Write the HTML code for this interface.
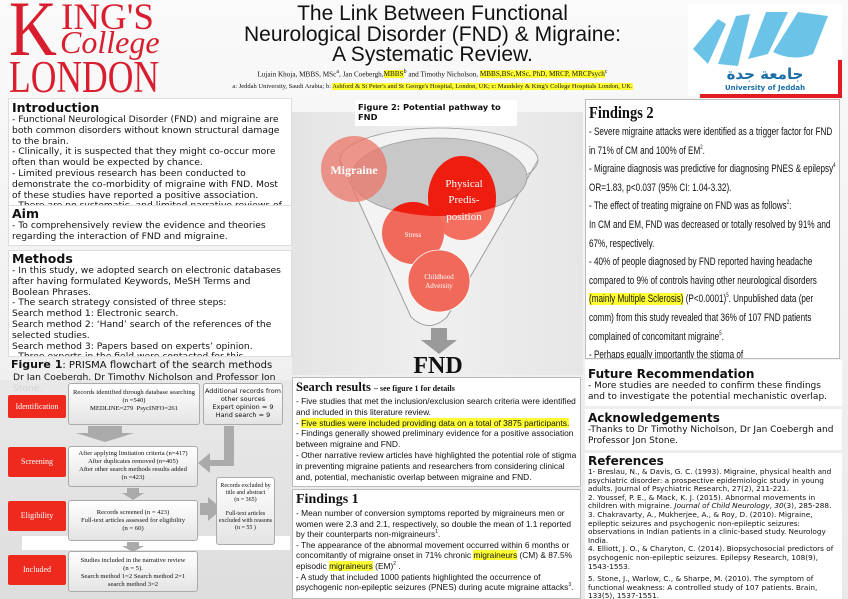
<!DOCTYPE html>
<html><head><meta charset="utf-8">
<style>
*{margin:0;padding:0;box-sizing:border-box}
body{width:848px;height:599px;overflow:hidden;background:linear-gradient(#fafafa,#e9e9e9);font-family:"DejaVu Sans","Liberation Sans",sans-serif;position:relative;color:#111}
.a{position:absolute}
.box{position:absolute;background:#fff;overflow:hidden;border:1px solid #ddd}
.h{font-weight:bold;font-size:12.5px;line-height:14px}
.t{font-size:9.2px;line-height:10.8px}
.hl{background:#ffff33}
.red{background:#ee2a1e;color:#fff;font-family:"Liberation Serif",serif;font-size:8px;text-align:center;border-radius:2px}
.fb{position:absolute;background:linear-gradient(#fff,#e4e4e4);border:1px solid #aaa;border-radius:3px;font-family:"Liberation Serif",serif;font-size:6.6px;line-height:8px;text-align:center;color:#111}
.kcl{position:absolute;color:#d81e2e;font-family:"Liberation Serif",serif;line-height:1;white-space:nowrap;transform-origin:left top}
</style></head><body>
<!-- KCL logo -->
<div class="kcl" style="left:9px;top:-10px;font-size:78px;transform:scaleX(.85)">K</div>
<div class="kcl" style="left:61px;top:-1px;font-size:37px">ING'S</div>
<div class="kcl" style="left:60px;top:26px;font-size:32px;font-style:italic">College</div>
<div class="kcl" style="left:9px;top:55px;font-size:45px;transform:scaleX(.79)">LONDON</div>
<!-- Title -->
<div class="a" style="left:130px;top:4px;width:605px;text-align:center;font-family:'Liberation Sans',sans-serif;font-size:21px;line-height:20.5px">The Link Between Functional<br>Neurological Disorder (FND) &amp; Migraine:<br>A Systematic Review.</div>
<div class="a" style="left:170px;top:69px;width:525px;text-align:center;font-family:'Liberation Serif',serif;font-size:7.2px;white-space:nowrap">Lujain Khoja, MBBS, MSc<sup>a</sup>, Jan Coebergh,<span class="hl">MBBS</span><sup>b</sup> and Timothy Nicholson, <span class="hl">MBBS,BSc,MSc, PhD, MRCP, MRCPsych</span><sup>c</sup></div>
<div class="a" style="left:170px;top:83px;width:525px;text-align:center;font-family:'Liberation Serif',serif;font-size:6.5px;white-space:nowrap">a: Jeddah University, Saudi Arabia; b: <span class="hl">Ashford &amp; St Peter's and St George's Hospital, London, UK; c: Maudsley &amp; King's College Hospitals London, UK.</span></div>
<!-- UoJ logo -->
<div class="a" style="left:688px;top:4px;width:154px;height:92px;background:#fff">
 <svg width="154" height="92"><g fill="#6cc3e8"><path d="M5 45 L30 15 L38 20 L20 60Z"/><path d="M30 60 L48 12 L62 10 L50 62Z"/><path d="M60 55 L78 8 L100 8 L80 50Z"/><path d="M85 48 L110 8 L140 12 L125 50 Q105 58 85 48Z"/></g><text x="77" y="75" text-anchor="middle" font-size="15" fill="#1a6fa8" font-family="DejaVu Sans,sans-serif" font-weight="bold">جامعة جدة</text><text x="77" y="86" text-anchor="middle" font-size="7" fill="#1a6fa8" font-weight="bold" font-family="DejaVu Sans,sans-serif">University of Jeddah</text></svg>
</div>
<div class="a" style="left:700px;top:94px;width:142px;height:4px;background:#e31b23"></div>
<div class="a" style="left:838px;top:60px;width:4px;height:36px;background:#e31b23"></div>

<!-- Left column -->
<div class="box" style="left:8px;top:98px;width:284px;height:108px;padding:2px 3px">
 <div class="h">Introduction</div>
 <div class="t">- Functional Neurological Disorder (FND) and migraine are both common disorders without known structural damage to the brain.<br>- Clinically, it is suspected that they might co-occur more often than would be expected by chance.<br>- Limited previous research has been conducted to demonstrate the co-morbidity of migraine with FND. Most of these studies have reported a positive association.<br>- There are no systematic, and limited narrative reviews of</div>
</div>
<div class="box" style="left:8px;top:206px;width:284px;height:40px;padding:1px 3px;border-top:none">
 <div class="h">Aim</div>
 <div class="t">- To comprehensively review the evidence and theories regarding the interaction of FND and migraine.</div>
</div>
<div class="box" style="left:8px;top:250px;width:284px;height:107px;padding:1px 3px">
 <div class="h">Methods</div>
 <div class="t">- In this study, we adopted search on electronic databases after having formulated Keywords, MeSH Terms and Boolean Phrases.<br>- The search strategy consisted of three steps:<br>Search method 1: Electronic search.<br>Search method 2: ‘Hand’ search of the references of the selected studies.<br>Search method 3: Papers based on experts’ opinion.<br>- Three experts in the field were contacted for this</div>
</div>
<div class="a" style="left:11px;top:358px;font-size:10px;white-space:nowrap"><b style="font-size:11px">Figure 1</b>: PRISMA flowchart of the search methods</div>
<div class="a t" style="left:13px;top:373px;white-space:nowrap">Dr Jan Coebergh, Dr Timothy Nicholson and Professor Jon<br>Stone.</div>
<!-- flowchart -->
<div class="a" style="left:0;top:380px;width:292px;height:219px;background:linear-gradient(#e8e8e8,#dcdcdc);opacity:.9"></div>
<div class="a" style="left:22px;top:536px;width:268px;height:14px;background:#fff"></div>
<div class="a red" style="left:8px;top:395px;width:58px;height:23px;line-height:23px">Identification</div>
<div class="a red" style="left:8px;top:447px;width:58px;height:30px;line-height:30px">Screening</div>
<div class="a red" style="left:8px;top:501px;width:58px;height:30px;line-height:30px">Eligibility</div>
<div class="a red" style="left:8px;top:555px;width:58px;height:30px;line-height:30px">Included</div>
<div class="fb" style="left:68px;top:383px;width:132px;height:42px;padding-top:5px">Records identified through database searching<br>(n =540)<br>MEDLINE=279 &nbsp;PsycINFO=261</div>
<div class="fb" style="left:203px;top:383px;width:80px;height:42px;padding-top:3px;font-family:'DejaVu Sans',sans-serif;font-size:6.5px">Additional records from other sources<br>Expert opinion = 9<br>Hand search = 9</div>
<svg class="a" style="left:0;top:380px" width="292" height="219">
 <path d="M88 46 h34 v7 h12 l-29 9 l-29 -9 h12z" fill="#aaa"/>
 <path d="M224 46 h10 v40 h-24 v7 l-12 -10 l12 -10 v7 h14z" fill="#aaa"/>
 <path d="M127 108 h12 v5 h5 l-11 7 l-11 -7 h5z" fill="#aaa"/>
 <path d="M127 162 h12 v4 h5 l-11 6 l-11 -6 h5z" fill="#aaa"/>
 <path d="M200 123 h8 v-6 l14 12 l-14 12 v-6 h-8z" fill="#aaa"/>
</svg>
<div class="fb" style="left:68px;top:446px;width:130px;height:41px;padding-top:3px">After applying limitation criteria (n=417)<br>After duplicates removed (n=405)<br>After other search methods results added<br>(n =423)</div>
<div class="fb" style="left:68px;top:500px;width:130px;height:41px;padding-top:8px">Records screened (n = 423)<br>Full-text articles assessed for eligibility<br>(n = 60)</div>
<div class="fb" style="left:216px;top:477px;width:59px;height:68px;padding-top:5px;font-size:6px;line-height:7px">Records excluded by title and abstract<br>(n = 365)<br><br>Full-text articles excluded with reasons<br>(n = 55 )</div>
<div class="fb" style="left:68px;top:551px;width:130px;height:41px;padding-top:5px">Studies included in the narrative review<br>(n = 5).<br>Search method 1=2 Search method 2=1<br>search method 3=2</div>

<!-- Middle figure -->
<div class="a" style="left:292px;top:112px;width:291px;height:263px;background:linear-gradient(90deg,#e4e4e4,#efefef,#e6e6e6)"></div>
<div class="a" style="left:355px;top:100px;width:162px;height:26px;background:#fff;font-size:8.3px;font-weight:bold;padding:2px 3px;line-height:10px">Figure 2: Potential pathway to FND</div>
<svg class="a" style="left:292px;top:112px" width="291" height="263">
 <defs><clipPath id="ce"><ellipse cx="147" cy="65" rx="88" ry="39"/></clipPath></defs>
 <path d="M48 48 L119 205 Q137 222 155 205 L246 48Z" fill="#f3f3f3" stroke="#999" stroke-width="0.8"/>
 <ellipse cx="147" cy="48" rx="99" ry="32" fill="#f3f3f3" stroke="#999" stroke-width="0.8"/>
 <path d="M48 48 L119 205 Q137 222 155 205 L246 48" fill="none" stroke="#999" stroke-width="0.8"/>
 <ellipse cx="147" cy="65" rx="88" ry="39" fill="#c8c8c8" stroke="#999" stroke-width="0.8"/>
 <ellipse cx="170" cy="86" rx="34" ry="42" fill="#f46f5f"/>
 <circle cx="121" cy="121" r="31" fill="#f0695a"/>
 <g clip-path="url(#ce)">
  <ellipse cx="170" cy="86" rx="34" ry="42" fill="#ee1d10"/>
  <circle cx="121" cy="121" r="31" fill="#ee1d10"/>
 </g>
 <circle cx="62" cy="57" r="33" fill="#ec7568" opacity="0.75"/>
 <circle cx="147" cy="169" r="31" fill="#f0695a" stroke="#fff" stroke-width="0.8"/>
 <path d="M139 216 h16 v12 h10 l-18 14 l-18 -14 h10z" fill="#9a9a9a"/>
 <g font-family="Liberation Serif,serif" fill="#fff" text-anchor="middle">
  <text x="62" y="62" font-size="12" font-weight="bold">Migraine</text>
  <text x="172" y="75" font-size="11">Physical</text>
  <text x="172" y="91" font-size="11">Predis-</text>
  <text x="172" y="108" font-size="11">position</text>
  <text x="121" y="125" font-size="7">Stress</text>
  <text x="147" y="167" font-size="7">Childhood</text>
  <text x="147" y="176" font-size="7">Adversity</text>
 </g>
 <text x="146" y="261" text-anchor="middle" font-family="Liberation Serif,serif" font-weight="bold" font-size="24" fill="#111">FND</text>
</svg>
<div class="box" style="left:292px;top:377px;width:289px;height:110px;padding:2px 3px;border-color:#bbb">
 <div style="font-family:'Liberation Serif',serif;font-weight:bold;font-size:12.5px;line-height:14px">Search results <span style="font-size:8px">– see figure 1 for details</span></div>
 <div class="t" style="font-family:'Liberation Sans',sans-serif;font-size:8.4px">- Five studies that met the inclusion/exclusion search criteria were identified and included in this literature review.<br>- <span class="hl">Five studies were included providing data on a total of 3875 participants.</span><br>- Findings generally showed preliminary evidence for a positive association between migraine and FND.<br>- Other narrative review articles have highlighted the potential role of stigma in preventing migraine patients and researchers from considering clinical and, potential, mechanistic overlap between migraine and FND.</div>
</div>
<div class="box" style="left:292px;top:489px;width:289px;height:110px;padding:2px 3px;border-color:#bbb">
 <div style="font-family:'Liberation Serif',serif;font-weight:bold;font-size:14px;line-height:16px">Findings 1</div>
 <div class="t" style="font-family:'Liberation Sans',sans-serif;font-size:8.4px;line-height:10.6px">- Mean number of conversion symptoms reported by migraineurs men or women were 2.3 and 2.1, respectively, so double the mean of 1.1 reported by their counterparts non-migraineurs<sup style="font-size:5px;line-height:0">1</sup>.<br>- The appearance of the abnormal movement occurred within 6 months or concomitantly of migraine onset in 71% chronic <span class="hl">migraineurs</span> (CM) &amp; 87.5% episodic <span class="hl">migraineurs</span> (EM)<sup style="font-size:5px;line-height:0">2</sup> .<br>- A study that included 1000 patients highlighted the occurrence of psychogenic non-epileptic seizures (PNES) during acute migraine attacks<sup style="font-size:5px;line-height:0">3</sup>.</div>
</div>

<!-- Right column -->
<div class="box" style="left:585px;top:99px;width:255px;height:260px;padding:3px 3px;border-color:#bbb">
 <div style="font-family:'Liberation Serif',serif;font-weight:bold;font-size:17px;line-height:20px;transform:scaleX(.85);transform-origin:left">Findings 2</div>
 <div style="width:346px;transform:scaleX(.72);transform-origin:left top;font-family:'Liberation Sans',sans-serif;font-size:11.3px;line-height:18.6px">- Severe migraine attacks were identified as a trigger factor for FND in 71% of CM and 100% of EM<sup style="font-size:6px;line-height:0">2</sup>.<br>- Migraine diagnosis was predictive for diagnosing PNES &amp; epilepsy<sup style="font-size:6px;line-height:0">4</sup> OR=1.83, p&lt;0.037 (95% CI: 1.04-3.32).<br>- The effect of treating migraine on FND was as follows<sup style="font-size:6px;line-height:0">2</sup>:<br>In CM and EM, FND was decreased or totally resolved by 91% and 67%, respectively.<br>- 40% of people diagnosed by FND reported having headache compared to 9% of controls having other neurological disorders <span class="hl">(mainly Multiple Sclerosis)</span> (P&lt;0.0001)<sup style="font-size:6px;line-height:0">5</sup>. Unpublished data (per comm) from this study revealed that 36% of 107 FND patients complained of concomitant migraine<sup style="font-size:6px;line-height:0">5</sup>.<br>- Perhaps equally importantly the stigma of</div>
</div>
<div class="box" style="left:585px;top:360px;width:257px;height:46px;padding:7px 3px 0;border:none">
 <div class="h" style="font-size:12px">Future Recommendation</div>
 <div class="t" style="font-size:9px">- More studies are needed to confirm these findings and to investigate the potential mechanistic overlap.</div>
</div>
<div class="box" style="left:585px;top:409px;width:257px;height:41px;padding:2px 3px;border:none">
 <div class="h" style="font-size:12px">Acknowledgements</div>
 <div class="t" style="font-size:9px">-Thanks to Dr Timothy Nicholson, Dr Jan Coebergh and Professor Jon Stone.</div>
</div>
<div class="box" style="left:585px;top:453px;width:257px;height:146px;padding:1px 3px;border:none">
 <div class="h" style="font-size:12px">References</div>
 <div style="font-size:7.3px;line-height:8.6px">1- Breslau, N., &amp; Davis, G. C. (1993). Migraine, physical health and psychiatric disorder: a prospective epidemiologic study in young adults. Journal of Psychiatric Research, 27(2), 211-221.<br>2. Youssef, P. E., &amp; Mack, K. J. (2015). Abnormal movements in children with migraine. <i>Journal of Child Neurology</i>, <i>30</i>(3), 285-288.<br>3. Chakravarty, A., Mukherjee, A., &amp; Roy, D. (2010). Migraine, epileptic seizures and psychogenic non-epileptic seizures: observations in Indian patients in a clinic-based study. Neurology India.<br>4. Elliott, J. O., &amp; Charyton, C. (2014). Biopsychosocial predictors of psychogenic non-epileptic seizures. Epilepsy Research, 108(9), 1543-1553.<div style="height:4px"></div>5. Stone, J., Warlow, C., &amp; Sharpe, M. (2010). The symptom of functional weakness: A controlled study of 107 patients. Brain, 133(5), 1537-1551.</div>
</div>
</body></html>
